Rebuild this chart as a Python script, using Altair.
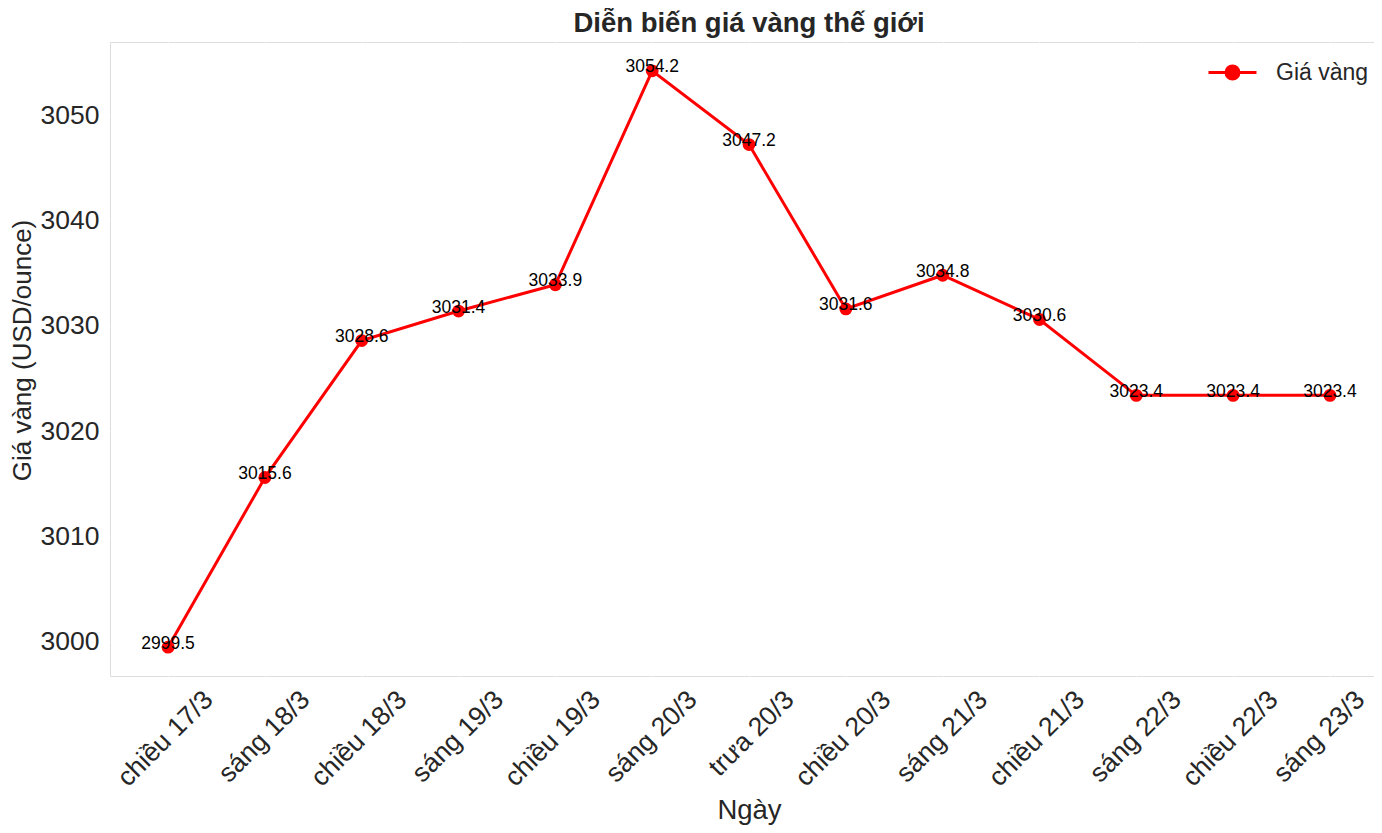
import altair as alt
import pandas as pd

categories = ["chiều 17/3", "sáng 18/3", "chiều 18/3", "sáng 19/3", "chiều 19/3",
              "sáng 20/3", "trưa 20/3", "chiều 20/3", "sáng 21/3", "chiều 21/3",
              "sáng 22/3", "chiều 22/3", "sáng 23/3"]
prices = [2999.5, 3015.6, 3028.6, 3031.4, 3033.9, 3054.2, 3047.2,
          3031.6, 3034.8, 3030.6, 3023.4, 3023.4, 3023.4]
series_name = "Giá vàng"
y_ticks = [3000, 3010, 3020, 3030, 3040, 3050]

df = pd.DataFrame({
    "idx": list(range(len(categories))),
    "label": categories,
    "price": prices,
    "series": [series_name] * len(categories),
})
df["text"] = df["price"].map(lambda v: f"{v:.1f}")

FONT = "Liberation Sans"
label_expr = "[" + ",".join("'" + c + "'" for c in categories) + "][datum.value]"
last_idx = len(categories) - 1

x_enc = alt.X(
    "idx:Q",
    scale=alt.Scale(domain=[-0.6, 12.455], nice=False, zero=False),
    axis=alt.Axis(
        values=list(range(len(categories))), labelExpr=label_expr,
        labelAngle=315, labelAlign="right", labelBaseline="top",
        labelOffset={"condition": {"test": f"datum.value == {last_idx}", "value": 21},
                     "value": 31},
        labelPadding=10, labelFontSize=26.5, labelFont=FONT,
        labelColor="#262626", labelOverlap=False, labelBound=False,
        ticks=False, domain=False,
        grid=True, gridColor="#ffffff", gridDash=[5, 3], gridWidth=1,
        title="Ngày", titleFontSize=27.5, titleFont=FONT, titleFontWeight="normal",
        titleColor="#262626", titleX=639, titleY=142, titleAlign="center",
        titleBaseline="alphabetic",
    ),
)
y_enc = alt.Y(
    "price:Q",
    scale=alt.Scale(domain=[2996.765, 3056.935], nice=False, zero=False),
    axis=alt.Axis(
        values=y_ticks, format="d", labelFontSize=26.5, labelFont=FONT,
        labelColor="#262626", labelPadding=11, ticks=False, domain=False,
        grid=True, gridColor="#ffffff", gridDash=[5, 3], gridWidth=1,
        title="Giá vàng (USD/ounce)", titleFontSize=26, titleFont=FONT,
        titleFontWeight="normal", titleColor="#262626", titleAngle=270,
        titleX=-80, titleY=308, titleAlign="center", titleBaseline="alphabetic",
    ),
)

legend_path = ("M-1,0L1,0M-0.27,0A0.27,0.27,0,1,0,0.27,0"
               "A0.27,0.27,0,1,0,-0.27,0Z")

base = alt.Chart(df)

line = base.mark_line(color="red", strokeWidth=3).encode(x=x_enc, y=y_enc)

points = base.mark_point(filled=True, size=165, opacity=1).encode(
    x=x_enc, y=y_enc,
    color=alt.Color(
        "series:N",
        scale=alt.Scale(domain=[series_name], range=["#ff0000"]),
        legend=alt.Legend(
            title=None, orient="none", legendX=1097, legendY=5,
            symbolType=legend_path, symbolSize=2304, symbolStrokeWidth=3,
            symbolStrokeColor="#ff0000", symbolFillColor="#ff0000",
            symbolOpacity=1, labelFontSize=23, labelFont=FONT,
            labelColor="#262626", labelOffset=18, padding=0,
        ),
    ),
)

labels = base.mark_text(
    baseline="alphabetic", align="center", dy=1.5, fontSize=17.5,
    font=FONT, color="black",
).encode(x=x_enc, y=y_enc, text="text:N")

chart = (
    alt.layer(line, points, labels)
    .properties(
        width=1264, height=634,
        autosize=alt.AutoSizeParams(type="none"),
        padding={"left": 102, "top": 34, "right": 0, "bottom": 149},
        title=alt.TitleParams(
            "Diễn biến giá vàng thế giới", fontSize=27.5, fontWeight="bold",
            font=FONT, color="#262626", anchor="middle", offset=14,
            baseline="alphabetic", dx=7, dy=31,
        ),
    )
    .configure_view(fill="#f4f4f4", strokeWidth=0)
    .configure(background="white")
)

chart.save("out.html", embed_options={"renderer": "svg", "actions": False})
